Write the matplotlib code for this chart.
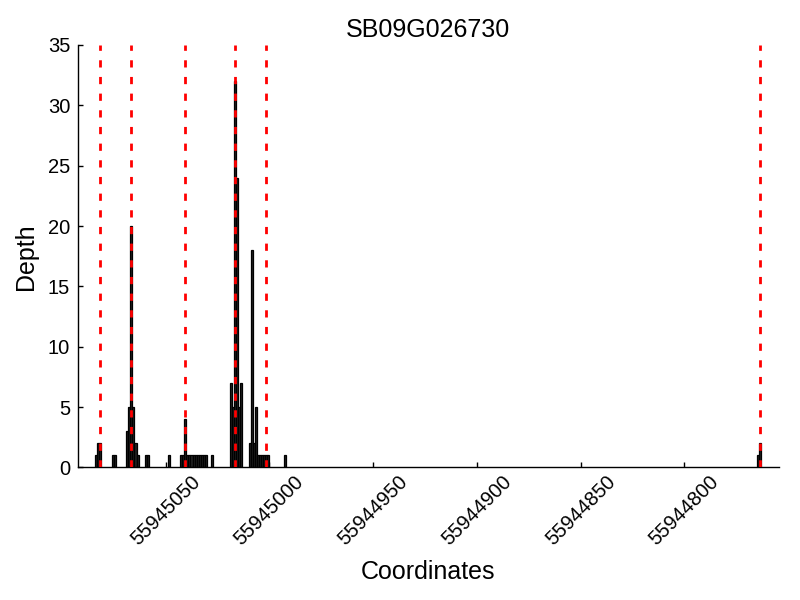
import matplotlib
matplotlib.use("Agg")
import matplotlib.pyplot as plt
from matplotlib.ticker import MultipleLocator

plt.rcParams['font.family'] = ['Liberation Sans', 'DejaVu Sans']

title = "SB09G026730"
# read-depth bars: genomic position and depth
positions = [55945083, 55945082, 55945081, 55945075, 55945074,
             55945068, 55945067, 55945066, 55945065, 55945064, 55945063,
             55945059, 55945058, 55945048, 55945042, 55945041, 55945040,
             55945039, 55945038, 55945037, 55945036, 55945035, 55945034,
             55945033, 55945032, 55945031, 55945030, 55945027,
             55945018, 55945017, 55945016, 55945015, 55945014, 55945013,
             55945009, 55945008, 55945007, 55945006,
             55945005, 55945004, 55945003, 55945002, 55945001, 55945000,
             55944992, 55944764, 55944763]
depths = [1, 2, 2, 1, 1,
          3, 5, 20, 5, 2, 1,
          1, 1, 1, 1, 1, 4,
          1, 1, 1, 1, 1, 1,
          1, 1, 1, 1, 1,
          7, 5, 32, 24, 5, 7,
          2, 18, 2, 5,
          1, 1, 1, 1, 1, 1,
          1, 1, 2]
# exon boundaries (red dashed lines)
boundaries = [55945081.5, 55945066.5, 55945040.5, 55945016.5, 55945001.5, 55944763.5]
x_limits = (55945092.4, 55944754.3)
y_limits = (0, 35)

fig = plt.figure(figsize=(8, 6), dpi=100)
ax = fig.add_axes([0.097, 0.221, 0.877, 0.704])

ax.bar(positions, depths, width=1, align='edge', color='#222222',
       edgecolor='black', linewidth=0.9, zorder=2)
for b in boundaries:
    ax.axvline(b, color='#ff0000', linewidth=2, linestyle=(0, (2.6, 3.4)), zorder=3)

ax.set_xlim(*x_limits)
ax.set_ylim(*y_limits)
ax.xaxis.set_major_locator(MultipleLocator(50))
ax.yaxis.set_major_locator(MultipleLocator(5))
ax.ticklabel_format(axis='x', useOffset=False, style='plain')

for s in ['top', 'right']:
    ax.spines[s].set_visible(False)
for s in ['left', 'bottom']:
    ax.spines[s].set_linewidth(1.0)

ax.tick_params(axis='both', direction='in', length=3.5, width=1, labelsize=14.5)
ax.tick_params(axis='y', pad=5.4)
ax.tick_params(top=False, right=False)
plt.setp(ax.get_xticklabels(), rotation=45, ha='center')

ax.set_title(title, fontsize=18)
ax.set_xlabel("Coordinates", fontsize=18, labelpad=8)
ax.set_ylabel("Depth", fontsize=18, labelpad=7)

fig.savefig("out.png", dpi=100)
